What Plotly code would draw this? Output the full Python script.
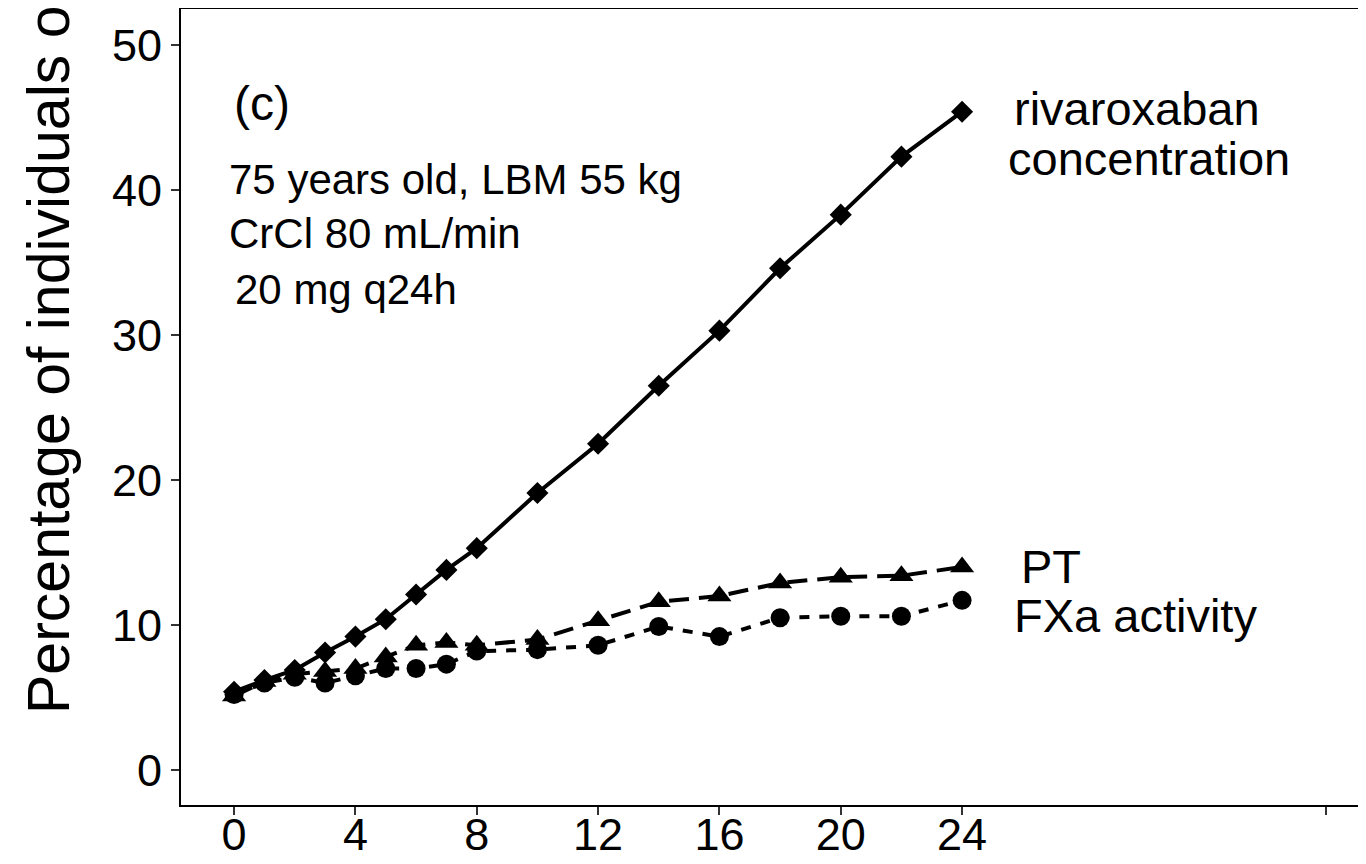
import plotly.graph_objects as go

# ---- data ----
time_h = [0, 1, 2, 3, 4, 5, 6, 7, 8, 10, 12, 14, 16, 18, 20, 22, 24]
rivaroxaban = [5.4, 6.2, 6.9, 8.1, 9.2, 10.4, 12.1, 13.8, 15.3, 19.1, 22.5, 26.5, 30.3, 34.6, 38.3, 42.3, 45.4]
pt = [5.1, 6.1, 6.6, 6.8, 7.0, 7.8, 8.6, 8.8, 8.6, 9.0, 10.3, 11.6, 12.0, 12.9, 13.3, 13.4, 14.0]
fxa = [5.2, 6.0, 6.4, 6.0, 6.5, 7.0, 7.0, 7.3, 8.2, 8.3, 8.6, 9.9, 9.2, 10.5, 10.6, 10.6, 11.7]

x_tickvals = [0, 4, 8, 12, 16, 20, 24, 36]
x_ticktext = ["0", "4", "8", "12", "16", "20", "24", ""]
y_tickvals = [0, 10, 20, 30, 40, 50]

OFF = 8  # page body margin offset
W, H = 1366 - OFF, 864 - OFF
L, R, T, B = 181 - OFF, 1366 - OFF, 9 - OFF, 805 - OFF
FONT = "Liberation Sans, Arial, sans-serif"


def px(xp):
    return (xp - OFF - L) / (R - L)


def py(yp):
    return (B - (yp - OFF)) / (B - T)


fig = go.Figure()
fig.add_trace(go.Scatter(
    x=time_h, y=rivaroxaban, mode="lines+markers",
    line=dict(color="black", width=4),
    marker=dict(symbol="diamond", size=17, color="black"),
    name="rivaroxaban concentration"))
fig.add_trace(go.Scatter(
    x=time_h, y=fxa, mode="lines+markers",
    line=dict(color="black", width=4, dash="10px,10px"),
    marker=dict(symbol="circle", size=19, color="black"),
    name="FXa activity"))
fig.add_trace(go.Scatter(
    x=time_h, y=pt, mode="lines+markers",
    line=dict(color="black", width=4, dash="20px,10px"),
    marker=dict(symbol="triangle-up", size=21, color="black"),
    name="PT"))

ann = []


def txt(s, xp, yp, size, anchor="left"):
    ann.append(dict(text=s, x=px(xp), y=py(yp), xref="paper", yref="paper",
                    xanchor=anchor, yanchor="middle", showarrow=False,
                    font=dict(family=FONT, size=size, color="black")))


txt("(c)", 232, 104, 48)
txt("75 years old, LBM 55 kg", 227, 180, 42)
txt("CrCl 80 mL/min", 227, 234, 42)
txt("20 mg q24h", 233, 289, 42)
txt("rivaroxaban", 1012, 108, 47)
txt("concentration", 1006, 158, 47)
txt("PT", 1019, 566, 47)
txt("FXa activity", 1012, 615, 47)

# y-axis title (cut off at the top in the reference)
ann.append(dict(text="Percentage of individuals o", textangle=-90,
                x=px(49), y=py(716), xref="paper", yref="paper",
                xanchor="center", yanchor="bottom", showarrow=False,
                font=dict(family=FONT, size=59, color="black")))

x0 = -1.75
x1 = x0 + (R - L) * 24 / 728
y0 = (770 - 805) / 14.5
y1 = (770 - 9) / 14.5

fig.update_layout(
    width=W, height=H,
    margin=dict(l=L, r=W - R, t=T, b=H - B, autoexpand=False),
    paper_bgcolor="white", plot_bgcolor="white",
    showlegend=False,
    annotations=ann,
    font=dict(family=FONT, color="black"),
    xaxis=dict(range=[x0, x1], tickmode="array", tickvals=x_tickvals, ticktext=x_ticktext,
               automargin=False, ticklabelstandoff=-19,
               showgrid=False, zeroline=False, showline=True, linecolor="black", linewidth=2,
               mirror=True, ticks="outside", ticklen=8, tickwidth=2, tickcolor="#333",
               tickfont=dict(family=FONT, size=45, color="black")),
    yaxis=dict(range=[y0, y1], tickmode="array", tickvals=y_tickvals,
               automargin=False,
               showgrid=False, zeroline=False, showline=True, linecolor="black", linewidth=2,
               ticks="outside", ticklen=8, tickwidth=2, tickcolor="#333",
               tickfont=dict(family=FONT, size=45, color="black")),
)

fig.write_html("out.html")
